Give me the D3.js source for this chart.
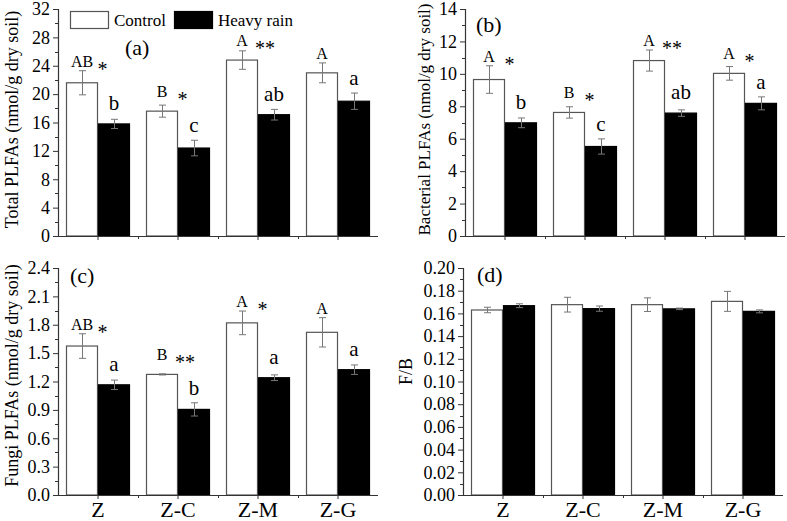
<!DOCTYPE html>
<html><head><meta charset="utf-8">
<script src="https://cdn.jsdelivr.net/npm/d3@7"></script>
<style>
body{margin:0;background:#fff;}
svg{display:block;}
</style></head>
<body>
<svg id="chart" width="787" height="521"></svg>
<script>
const categories = ["Z","Z-C","Z-M","Z-G"];
const seriesNames = ["Control","Heavy rain"];

// (a) Total PLFAs
const totalControl = [21.6, 17.6, 24.8, 23.0];
const totalControlErr = [1.7, 0.85, 1.3, 1.4];
const totalRain = [15.8, 12.4, 17.1, 19.0];
const totalRainErr = [0.65, 1.1, 0.75, 1.15];
const totalCtrlLetters = ["AB","B","A","A"];
const totalRainLetters = ["b","c","ab","a"];
const totalStars = ["*","*","**",""];
const totalTicks = [0,4,8,12,16,20,24,28,32];

// (b) Bacterial PLFAs
const bactControl = [9.65, 7.62, 10.82, 10.03];
const bactControlErr = [0.85, 0.35, 0.65, 0.42];
const bactRain = [6.98, 5.52, 7.58, 8.18];
const bactRainErr = [0.3, 0.47, 0.2, 0.4];
const bactCtrlLetters = ["A","B","A","A"];
const bactRainLetters = ["b","c","ab","a"];
const bactStars = ["*","*","**","*"];
const bactTicks = [0,2,4,6,8,10,12,14];

// (c) Fungi PLFAs
const fungiControl = [1.575, 1.275, 1.82, 1.72];
const fungiControlErr = [0.13, 0.006, 0.125, 0.155];
const fungiRain = [1.165, 0.905, 1.24, 1.325];
const fungiRainErr = [0.05, 0.07, 0.03, 0.05];
const fungiCtrlLetters = ["AB","B","A","A"];
const fungiRainLetters = ["a","b","a","a"];
const fungiStars = ["*","**","*",""];
const fungiTicks = [0,0.3,0.6,0.9,1.2,1.5,1.8,2.1,2.4];

// (d) F/B
const fbControl = [0.163, 0.1677, 0.1677, 0.1706];
const fbControlErr = [0.0024, 0.0065, 0.006, 0.0088];
const fbRain = [0.1668, 0.1642, 0.164, 0.1618];
const fbRainErr = [0.0017, 0.0023, 0.0007, 0.0013];
const fbTicks = [0,0.02,0.04,0.06,0.08,0.10,0.12,0.14,0.16,0.18,0.20];

const FONT = "'Liberation Serif'";
const svg = d3.select("#chart");
const AX = "#333";

function txt(sel, size){
  return sel.style("font-family", FONT).style("font-size", size+"px").attr("fill","#000");
}

function panel(cfg){
  const g = svg.append("g");
  const x = d3.scaleBand().domain(categories).range([cfg.left, cfg.right]).paddingInner(0.2).paddingOuter(0.1);
  const xs = d3.scaleBand().domain(seriesNames).range([0, x.bandwidth()]);
  const ymax = cfg.ticks[cfg.ticks.length-1];
  const y = d3.scaleLinear().domain([0, ymax]).range([cfg.bottom, cfg.top]);
  const step = cfg.ticks[1]-cfg.ticks[0];

  const series = [
    {name:"Control", vals:cfg.ctrl, errs:cfg.ctrlErr, fill:"#fff", stroke:"#555"},
    {name:"Heavy rain", vals:cfg.rain, errs:cfg.rainErr, fill:"#000", stroke:"#000"}
  ];
  series.forEach(s=>{
    g.selectAll(null).data(categories).enter().append("rect")
      .attr("x", c=>x(c)+xs(s.name)+0.5)
      .attr("y", (c,i)=>y(s.vals[i]))
      .attr("width", xs.bandwidth()-1)
      .attr("height", (c,i)=>y(0)-y(s.vals[i]))
      .attr("fill", s.fill).attr("stroke", s.stroke).attr("stroke-width",1.2);
  });
  series.forEach(s=>{
    categories.forEach((c,i)=>{
      const cx = Math.round(x(c)+xs(s.name)+xs.bandwidth()/2)+0.5;
      const t = y(s.vals[i]+s.errs[i]), b = y(s.vals[i]-s.errs[i]);
      const col = "#777";
      g.append("line").attr("x1",cx).attr("x2",cx).attr("y1",t).attr("y2",b).attr("stroke",col);
      g.append("line").attr("x1",cx-3.5).attr("x2",cx+3.5).attr("y1",t).attr("y2",t).attr("stroke",col);
      g.append("line").attr("x1",cx-3.5).attr("x2",cx+3.5).attr("y1",b).attr("y2",b).attr("stroke",col);
    });
  });

  const yAxis = d3.axisLeft(y).tickValues(cfg.ticks).tickSize(5).tickPadding(3).tickFormat(cfg.fmt);
  const ya = g.append("g").attr("transform",`translate(${cfg.left},0)`).call(yAxis);
  ya.attr("font-family",null).attr("font-size",null);
  ya.select(".domain").attr("stroke",AX).attr("stroke-width",1.2);
  ya.selectAll(".tick line").attr("stroke",AX);
  txt(ya.selectAll(".tick text"), 18);
  const minor = d3.range(cfg.ticks.length-1).map(i=>cfg.ticks[i]+step/2);
  g.selectAll(null).data(minor).enter().append("line")
    .attr("x1",cfg.left-3).attr("x2",cfg.left).attr("y1",d=>Math.round(y(d))+0.5).attr("y2",d=>Math.round(y(d))+0.5).attr("stroke",AX);

  const xAxis = d3.axisBottom(x).tickSize(4).tickPadding(2).tickFormat(cfg.xlabels ? (d=>d) : (()=>""));
  const xa = g.append("g").attr("transform",`translate(0,${cfg.bottom})`).call(xAxis);
  xa.attr("font-family",null).attr("font-size",null);
  xa.select(".domain").attr("stroke",AX).attr("stroke-width",1.2).attr("d",`M${cfg.left},0.5H${cfg.right}`);
  xa.selectAll(".tick line").attr("stroke",AX);
  txt(xa.selectAll(".tick text"), 22).attr("dy","0.72em");
  const xminor = categories.slice(1).map(c=>x(c)-x.step()*x.paddingInner()/2);
  g.selectAll(null).data(xminor).enter().append("line")
    .attr("x1",d=>Math.round(d)+0.5).attr("x2",d=>Math.round(d)+0.5).attr("y1",cfg.bottom).attr("y2",cfg.bottom+3).attr("stroke",AX);

  txt(g.append("text").attr("transform",`translate(${cfg.titleX},${(cfg.top+cfg.bottom)/2-cfg.titleShift}) rotate(-90)`)
    .attr("text-anchor","middle"), cfg.titleSize).text(cfg.title);
  txt(g.append("text").attr("x",cfg.labX).attr("y",cfg.labY), 22).text(cfg.label);

  if(cfg.ctrlLetters){
    categories.forEach((c,i)=>{
      const cxC = x(c)+xs("Control")+xs.bandwidth()/2;
      const cxR = x(c)+xs("Heavy rain")+xs.bandwidth()/2;
      const base = Math.min(y(cfg.ctrl[i]+cfg.ctrlErr[i]) - 4, y(cfg.ctrl[i]) - 14);
      const baseR = Math.min(y(cfg.rain[i]+cfg.rainErr[i]) - 8, y(cfg.rain[i]) - 14);
      txt(g.append("text").attr("x",cxC).attr("y",base).attr("text-anchor","middle"), 16).text(cfg.ctrlLetters[i]);
      txt(g.append("text").attr("x",cxR).attr("y",baseR).attr("text-anchor","middle"), 21).text(cfg.rainLetters[i]);
      const st = cfg.stars[i];
      if(st){
        txt(g.append("text").attr("x",x(c)+x.bandwidth()/2+2+2.5*st.length).attr("y",base+9).attr("text-anchor","middle"), 20).text(st);
      }
    });
  }
}

panel({left:58,right:378,top:9,bottom:236,ticks:totalTicks,fmt:d3.format("d"),
  ctrl:totalControl,ctrlErr:totalControlErr,rain:totalRain,rainErr:totalRainErr,
  ctrlLetters:totalCtrlLetters,rainLetters:totalRainLetters,stars:totalStars,
  title:"Total PLFAs (nmol/g dry soil)",titleX:18,titleSize:18,titleShift:3,label:"(a)",labX:125,labY:55,xlabels:false});
panel({left:465,right:785,top:9,bottom:236,ticks:bactTicks,fmt:d3.format("d"),
  ctrl:bactControl,ctrlErr:bactControlErr,rain:bactRain,rainErr:bactRainErr,
  ctrlLetters:bactCtrlLetters,rainLetters:bactRainLetters,stars:bactStars,
  title:"Bacterial PLFAs (nmol/g dry soil)",titleX:430,titleSize:17,titleShift:3,label:"(b)",labX:476,labY:32,xlabels:false});
panel({left:58,right:378,top:268,bottom:495,ticks:fungiTicks,fmt:d3.format(".1f"),
  ctrl:fungiControl,ctrlErr:fungiControlErr,rain:fungiRain,rainErr:fungiRainErr,
  ctrlLetters:fungiCtrlLetters,rainLetters:fungiRainLetters,stars:fungiStars,
  title:"Fungi PLFAs (nmol/g dry soil)",titleX:18,titleSize:18,titleShift:6,label:"(c)",labX:70,labY:283,xlabels:true});
panel({left:463,right:783,top:268,bottom:495,ticks:fbTicks,fmt:d3.format(".2f"),
  ctrl:fbControl,ctrlErr:fbControlErr,rain:fbRain,rainErr:fbRainErr,
  title:"F/B",titleX:412,titleSize:18,titleShift:10,label:"(d)",labX:477,labY:282,xlabels:true});

const leg = svg.append("g");
const legItems = [{name:seriesNames[0],fill:"#fff",stroke:"#555",x:70},{name:seriesNames[1],fill:"#000",stroke:"#000",x:174}];
legItems.forEach(it=>{
  leg.append("rect").attr("x",it.x+0.5).attr("y",11.5).attr("width",38).attr("height",17).attr("fill",it.fill).attr("stroke",it.stroke).attr("stroke-width",1.2);
  txt(leg.append("text").attr("x",it.x+44).attr("y",26), 17).text(it.name);
});
</script>
</body></html>
